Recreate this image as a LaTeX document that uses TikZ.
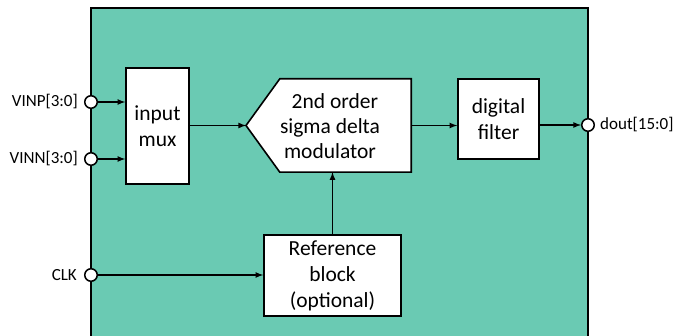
\documentclass[tikz,border=0pt]{standalone}
\usepackage{fontspec}
\setmainfont{Carlito}
\usetikzlibrary{arrows, positioning}
\definecolor{chipteal}{RGB}{106,202,179}
\begin{document}
\begin{tikzpicture}[x=1pt,y=-1pt,>=latex,
        blk/.style={draw,fill=white,line width=1.6pt,inner sep=0pt,align=center,font=\fontsize{21.5}{26}\selectfont},
        pin/.style={circle,draw,fill=white,line width=1.5pt,minimum size=12.5pt,inner sep=0pt},
        lbl/.style={inner sep=0pt,font=\fontsize{17}{18}\selectfont},
        wire/.style={->,line width=1.6pt}]
        \useasboundingbox (0,0) rectangle (676,336);
        \clip (0,0) rectangle (676,336);
        % chip outline
        \draw[fill=chipteal,line width=2.6pt] (91,8) rectangle (588,350);
        % blocks
        \node[blk,minimum width=63pt,minimum height=116pt] (mux) at (157.5,126) {input\\mux};
        \node[minimum width=131pt,minimum height=93pt,inner sep=0pt] (mod) at (345.5,125.5) {};
        \coordinate (tip) at (246,125.5);
        \draw[fill=white,line width=1.6pt] (mod.north west) -- (mod.north east) -- (mod.south east)
                -- (mod.south west) -- (tip) -- cycle;
        \node[align=center,font=\fontsize{21.5}{25}\selectfont] (modtxt) at (330,126) {\ \ 2nd order\\sigma delta\\modulator};
        \node[blk,minimum width=81pt,minimum height=80pt] (filt) at (498.5,119) {digital\\filter};
        \node[blk,minimum width=137pt,minimum height=81pt] (ref) at (332.5,275.5) {Reference\\block\\(optional)};
        % pins
        \node[pin] (vinp) at (91,102) {};
        \node[pin] (vinn) at (91,159) {};
        \node[pin] (clk) at (91,275) {};
        \node[pin] (dout) at (588,125) {};
        \node[lbl,left=6pt of vinp] (vinplbl) {VINP[3:0]};
        \node[lbl,left=6pt of vinn] (vinnlbl) {VINN[3:0]};
        \node[lbl,left=7pt of clk] (clklbl) {CLK};
        \node[lbl,right=5pt of dout] (doutlbl) {dout[15:0]};
        % connections
        \draw[wire] (vinp) -- (vinp -| mux.west);
        \draw[wire] (vinn) -- (vinn -| mux.west);
        \draw[wire] (mux.east |- tip) -- (tip);
        \draw[wire] (mod.east) -- (mod.east -| filt.west);
        \draw[wire] (filt.east |- dout) -- (dout);
        \draw[wire] (clk) -- (clk -| ref.west);
        \draw[wire] (ref.north) -- (ref.north |- mod.south);
\end{tikzpicture}
\end{document}
